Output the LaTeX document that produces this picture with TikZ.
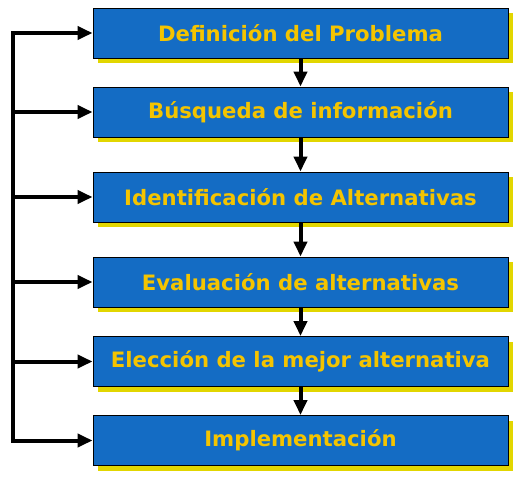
\documentclass[tikz,border=0pt]{standalone}
\usepackage{fontspec}
\setmainfont{DejaVu Sans}
\usetikzlibrary{arrows.meta,shadows}
\definecolor{boxblue}{RGB}{20,108,196}
\definecolor{txtyellow}{RGB}{244,196,0}
\definecolor{shadowyellow}{RGB}{226,214,0}
\begin{document}
\begin{tikzpicture}[x=1pt,y=-1pt,
  stepbox/.style={draw=black, line width=0.9pt, fill=boxblue, minimum width=415pt, minimum height=50pt,
    inner sep=0pt, text=txtyellow, font=\bfseries\fontsize{21.2}{24}\selectfont,
    drop shadow={shadow xshift=5pt, shadow yshift=-5pt, fill=shadowyellow, opacity=1}},
  flow/.style={line width=4pt, -{Triangle[length=15pt,width=13pt]}},
  spine/.style={line width=4pt, line cap=rect}]
\useasboundingbox (0,0) rectangle (523,477);
\node[stepbox] (b1) at (300.5,33) {Definición del Problema};
\node[stepbox] (b2) at (300.5,112) {Búsqueda de información};
\node[stepbox] (b3) at (300.5,197) {Identificación de Alternativas};
\node[stepbox] (b4) at (300.5,282) {Evaluación de alternativas};
\node[stepbox] (b5) at (300.5,361.5) {Elección de la mejor alternativa};
\node[stepbox] (b6) at (300.5,440.5) {Implementación};
\foreach \i in {1,...,6} {\coordinate (c\i) at (13,0 |- b\i.west);}
\draw[spine] (c1) -- (c6);
\foreach \i in {1,...,6} {\draw[flow] (c\i) -- (b\i.west);}
\draw[flow] (b1.south) -- (b2.north);
\draw[flow] (b2.south) -- (b3.north);
\draw[flow] (b3.south) -- (b4.north);
\draw[flow] (b4.south) -- (b5.north);
\draw[flow] (b5.south) -- (b6.north);
\end{tikzpicture}
\end{document}
